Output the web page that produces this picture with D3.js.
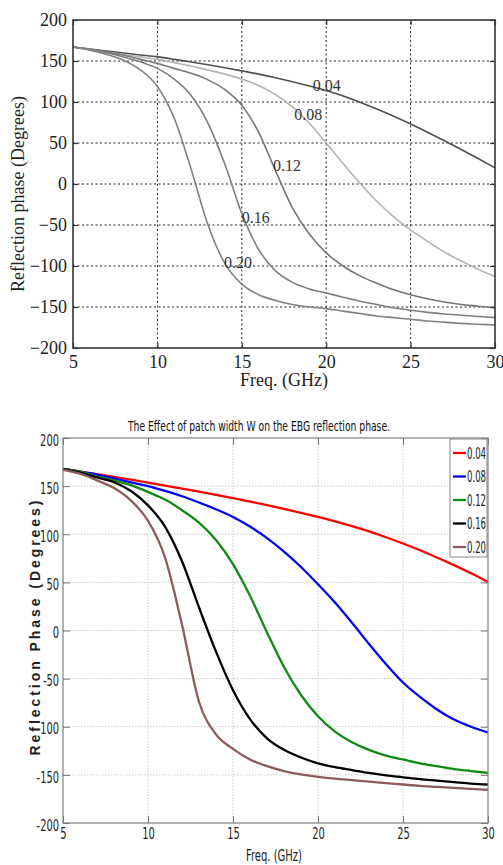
<!DOCTYPE html>
<html>
<head>
<meta charset="utf-8">
<script src="https://cdn.jsdelivr.net/npm/d3@7"></script>
<style>
  body { margin: 0; background: #fff; }
  svg { display: block; }
</style>
</head>
<body>
<svg id="chart" width="503" height="865"></svg>
<script>
// Frequency samples (GHz), shared by both panels
const freqs = [5, 6, 7, 8, 9, 10, 11, 12, 13, 14, 15, 16, 17, 18, 19, 20, 21, 22, 23, 24, 25, 26, 27, 28, 29, 30];
const widths = ['0.04', '0.08', '0.12', '0.16', '0.20'];

// Upper panel (grey curves), reflection phase in degrees
const topW004 = [167, 164.6, 162.2, 159.8, 157.4, 155, 152, 148.8, 145.4, 141.8, 138, 134, 129.6, 124.8, 119.6, 114, 107.3, 99.8, 91.5, 82.6, 73.1, 63.1, 52.7, 42, 31, 19.7];
const topW008 = [167, 164, 161, 158, 155, 152, 148, 144, 139, 134, 128, 120, 109, 94, 74, 50, 25, 1, -21, -40, -56, -70, -83, -94, -104, -113];
const topW012 = [167, 164, 161, 157, 152, 147, 141, 135, 127, 115, 96, 63, 16, -29, -61, -84, -100, -112, -121, -129, -135, -140, -144, -147, -149, -151];
const topW016 = [167, 164, 160, 155, 149, 141, 128, 108, 74, 24, -36, -80, -106, -120, -128, -133, -138, -143, -147, -151, -154, -156.5, -158.5, -160, -161.5, -163];
const topW020 = [167, 163, 158, 151, 139, 119, 80, 18, -50, -97, -122, -135, -142, -147, -150, -152, -155, -158, -161, -163, -165, -167, -168.5, -170, -171, -172];

// Curve annotations of the upper panel (freq, phase where the text starts)
const topLabelFreq = [19.2, 18.1, 16.85, 15.0, 13.95];
const topLabelPhase = [113, 78, 16, -48, -102];

// Lower panel (coloured curves)
const botW004 = [168, 165.2, 162.4, 159.6, 156.7, 153.7, 150.6, 147.4, 144.2, 140.9, 137.5, 134, 130.3, 126.4, 122.3, 118, 113.4, 108.4, 102.9, 96.9, 90.4, 83.4, 75.9, 67.9, 59.4, 50.4];
const botW008 = [168, 165, 162, 158, 154, 150, 145, 139.5, 133, 126, 118, 108, 96, 82, 66, 48, 29, 8, -14, -35, -54, -69, -82, -92.5, -100, -106];
const botW012 = [168, 165, 160, 156, 151, 144, 136, 125, 112, 94, 69, 36, -2, -38, -67, -89, -105, -116, -124, -130, -134, -138, -141, -144, -146, -148];
const botW016 = [168, 164, 159, 154, 145, 130, 108, 72, 24, -22, -62, -92, -112, -124, -132, -138, -142, -145, -148, -150.5, -152.5, -154.5, -156, -157.5, -159, -160];
const botW020 = [167, 163, 156, 148, 135, 114, 76, 6, -74, -108, -123, -134, -141, -146, -149.5, -152, -154, -155.5, -157, -158.5, -160, -161.5, -162.5, -163.5, -164.5, -165.5];

const xTicks = [5, 10, 15, 20, 25, 30];
const yTicks = [-200, -150, -100, -50, 0, 50, 100, 150, 200];

const topTitleY = 'Reflection phase (Degrees)';
const topTitleX = 'Freq. (GHz)';
const botTitle = 'The Effect of patch width W on the EBG reflection phase.';
const botTitleY = 'Reflection Phase (Degrees)';
const botTitleX = 'Freq. (GHz)';

const svg = d3.select('#chart');
const serif = '"Liberation Serif", "Times New Roman", serif';
const narrow = '"Liberation Sans Narrow", "DejaVu Sans Condensed", sans-serif';

let line = (x, y) => d3.line()
  .x((d) => x(d.f))
  .y((d) => y(d.v))
  .curve(d3.curveMonotoneX);

let toPoints = (vals) => freqs.map((f, i) => ({f: f, v: vals[i]}));

// squeeze the tick text to the narrow look of the lower panel
let narrowWidth = (s) => s.replace('-', '').length * 6.3 + (s.indexOf('-') > -1 ? 3.5 : 0);

// ---------- Upper panel ----------
let drawTop = function () {
  let x = d3.scaleLinear().domain([5, 30]).range([73, 495]);
  let y = d3.scaleLinear().domain([-200, 200]).range([348, 20]);
  let g = svg.append('g');

  // dotted grid
  g.append('g').selectAll('line')
    .data(xTicks.slice(1, -1)).enter().append('line')
    .attr('x1', (d) => x(d)).attr('x2', (d) => x(d))
    .attr('y1', y(-200)).attr('y2', y(200))
    .attr('stroke', '#222').attr('stroke-width', 1).attr('stroke-dasharray', '2,2.5');
  g.append('g').selectAll('line')
    .data(yTicks.slice(1, -1)).enter().append('line')
    .attr('x1', x(5)).attr('x2', x(30))
    .attr('y1', (d) => y(d)).attr('y2', (d) => y(d))
    .attr('stroke', '#222').attr('stroke-width', 1).attr('stroke-dasharray', '2,2.5');

  // curves
  let series = [topW004, topW008, topW012, topW016, topW020];
  let colors = ['#505050', '#b4b4b4', '#767676', '#7e7e7e', '#828282'];
  g.append('g').selectAll('path')
    .data(series).enter().append('path')
    .attr('d', (d) => line(x, y)(toPoints(d)))
    .attr('fill', 'none')
    .attr('stroke', (d, i) => colors[i])
    .attr('stroke-width', 1.6);

  // axes with inward ticks on all sides
  let left = g.append('g').attr('transform', 'translate(' + x(5) + ',0)')
    .call(d3.axisLeft(y).tickValues(yTicks).tickSize(-5).tickPadding(6));
  let bottom = g.append('g').attr('transform', 'translate(0,' + y(-200) + ')')
    .call(d3.axisBottom(x).tickValues(xTicks).tickSize(-5).tickPadding(7));
  g.append('g').attr('transform', 'translate(' + x(30) + ',0)')
    .call(d3.axisRight(y).tickValues(yTicks).tickSize(-5).tickFormat(''));
  g.append('g').attr('transform', 'translate(0,' + y(200) + ')')
    .call(d3.axisTop(x).tickValues(xTicks).tickSize(-5).tickFormat(''));
  g.selectAll('.domain').remove();
  g.selectAll('.tick line').attr('stroke', '#333').attr('stroke-width', 1.2);
  [left, bottom].forEach((a) => a.selectAll('text')
    .attr('font-family', serif).attr('font-size', 18).attr('fill', '#222'));

  g.append('rect')
    .attr('x', x(5)).attr('y', y(200))
    .attr('width', x(30) - x(5)).attr('height', y(-200) - y(200))
    .attr('fill', 'none').attr('stroke', '#333').attr('stroke-width', 1.6);

  // curve annotations
  g.append('g').selectAll('text')
    .data(widths).enter().append('text')
    .attr('x', (d, i) => x(topLabelFreq[i]))
    .attr('y', (d, i) => y(topLabelPhase[i]))
    .attr('font-family', serif).attr('font-size', 16).attr('fill', '#333')
    .text((d) => d);

  g.append('text')
    .attr('transform', 'translate(24,' + 194 + ') rotate(-90)')
    .attr('text-anchor', 'middle')
    .attr('font-family', serif).attr('font-size', 18).attr('fill', '#222')
    .text(topTitleY);
  g.append('text')
    .attr('x', 284).attr('y', 386)
    .attr('text-anchor', 'middle')
    .attr('font-family', serif).attr('font-size', 18).attr('fill', '#222')
    .text(topTitleX);
};

// ---------- Lower panel ----------
let drawBottom = function () {
  let x = d3.scaleLinear().domain([5, 30]).range([63, 488]);
  let y = d3.scaleLinear().domain([-200, 200]).range([823, 438]);
  let g = svg.append('g');

  g.append('g').selectAll('line')
    .data(xTicks.slice(1, -1)).enter().append('line')
    .attr('x1', (d) => x(d)).attr('x2', (d) => x(d))
    .attr('y1', y(-200)).attr('y2', y(200))
    .attr('stroke', '#c8c8c8').attr('stroke-width', 1).attr('stroke-dasharray', '1.5,1.5');
  g.append('g').selectAll('line')
    .data(yTicks.slice(1, -1)).enter().append('line')
    .attr('x1', x(5)).attr('x2', x(30))
    .attr('y1', (d) => y(d)).attr('y2', (d) => y(d))
    .attr('stroke', '#c8c8c8').attr('stroke-width', 1).attr('stroke-dasharray', '1.5,1.5');

  let series = [botW004, botW008, botW012, botW016, botW020];
  let colors = ['#ff0000', '#0000ff', '#118a11', '#000000', '#8c5b5b'];
  g.append('g').selectAll('path')
    .data(series).enter().append('path')
    .attr('d', (d) => line(x, y)(toPoints(d)))
    .attr('fill', 'none')
    .attr('stroke', (d, i) => colors[i])
    .attr('stroke-width', 2.3);

  let fmt = (d) => String(d);
  let left = g.append('g').attr('transform', 'translate(' + x(5) + ',0)')
    .call(d3.axisLeft(y).tickValues(yTicks).tickSize(-7).tickPadding(4).tickFormat(fmt));
  let bottom = g.append('g').attr('transform', 'translate(0,' + y(-200) + ')')
    .call(d3.axisBottom(x).tickValues(xTicks).tickSize(-7).tickPadding(5).tickFormat(fmt));
  g.append('g').attr('transform', 'translate(' + x(30) + ',0)')
    .call(d3.axisRight(y).tickValues(yTicks).tickSize(-7).tickFormat(''));
  g.append('g').attr('transform', 'translate(0,' + y(200) + ')')
    .call(d3.axisTop(x).tickValues(xTicks).tickSize(-7).tickFormat(''));
  g.selectAll('.domain').remove();
  g.selectAll('.tick line').attr('stroke', '#777').attr('stroke-width', 1);
  [left, bottom].forEach((a) => a.selectAll('text')
    .attr('font-family', narrow).attr('font-size', 16).attr('fill', '#222')
    .attr('textLength', (d) => narrowWidth(String(d)))
    .attr('lengthAdjust', 'spacingAndGlyphs'));
  left.selectAll('text').attr('dy', '0.45em');

  g.append('rect')
    .attr('x', x(5)).attr('y', y(200))
    .attr('width', x(30) - x(5)).attr('height', y(-200) - y(200))
    .attr('fill', 'none').attr('stroke', '#808080').attr('stroke-width', 1.2);

  // legend
  let legend = g.append('g').attr('transform', 'translate(450,439)');
  legend.append('rect')
    .attr('width', 37).attr('height', 118)
    .attr('fill', '#fff').attr('stroke', '#888').attr('stroke-width', 1);
  let rows = legend.selectAll('.legend')
    .data(widths).enter().append('g')
    .attr('class', 'legend')
    .attr('transform', (d, i) => 'translate(0,' + (14 + i * 23.5) + ')');
  rows.append('line')
    .attr('x1', 3).attr('x2', 16)
    .attr('stroke', (d, i) => colors[i]).attr('stroke-width', 2.3);
  rows.append('text')
    .attr('x', 17).attr('dy', '0.38em')
    .attr('font-family', narrow).attr('font-size', 15).attr('fill', '#222')
    .attr('textLength', 19).attr('lengthAdjust', 'spacingAndGlyphs')
    .text((d) => d);

  g.append('text')
    .attr('x', 259).attr('y', 431)
    .attr('text-anchor', 'middle')
    .attr('font-family', narrow).attr('font-size', 14).attr('fill', '#111')
    .attr('textLength', 262).attr('lengthAdjust', 'spacingAndGlyphs')
    .text(botTitle);
  g.append('text')
    .attr('transform', 'translate(40,' + 628 + ') rotate(-90)')
    .attr('text-anchor', 'middle')
    .attr('font-family', '"Liberation Sans", Arial, sans-serif')
    .attr('font-size', 14).attr('font-weight', 'bold').attr('fill', '#222')
    .attr('textLength', 255).attr('lengthAdjust', 'spacing')
    .text(botTitleY);
  g.append('text')
    .attr('x', 274).attr('y', 861)
    .attr('text-anchor', 'middle')
    .attr('font-family', narrow).attr('font-size', 16).attr('fill', '#222')
    .attr('textLength', 56).attr('lengthAdjust', 'spacingAndGlyphs')
    .text(botTitleX);
};

drawTop();
drawBottom();
</script>
</body>
</html>
